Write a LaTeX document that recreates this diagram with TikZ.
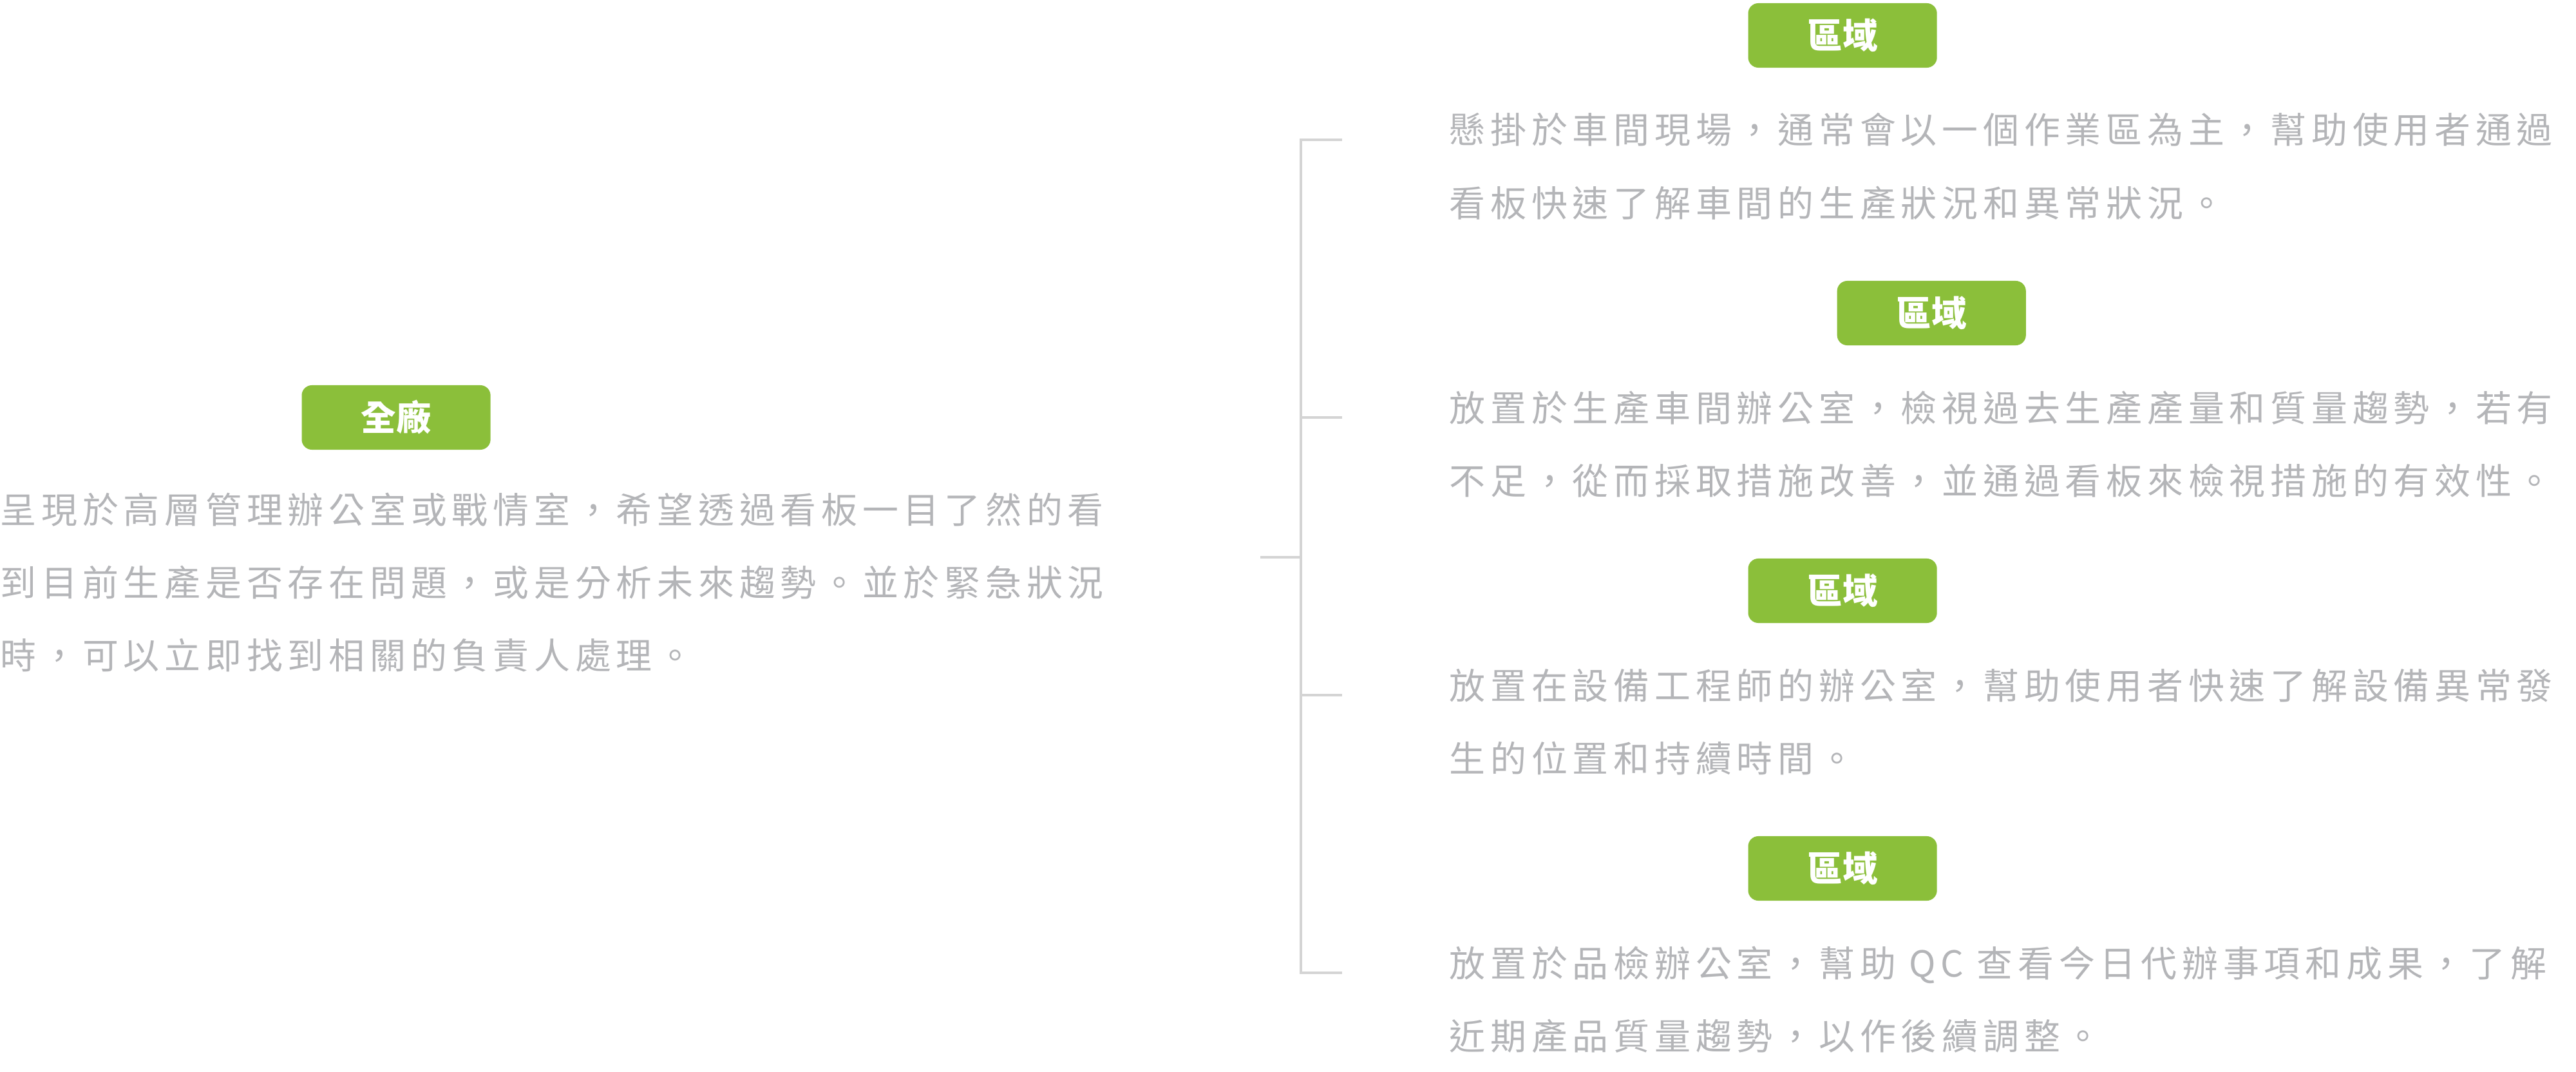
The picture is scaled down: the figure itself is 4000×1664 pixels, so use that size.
\documentclass[tikz,border=0pt]{standalone}
\usepackage{fontspec}
\usepackage{xcolor}
\usepackage{tikz}
\usetikzlibrary{positioning}
\newfontfamily\cjk{Noto Sans CJK TC}
\newfontfamily\cjkspaced{Noto Sans CJK TC}[LetterSpace=14]
\definecolor{tagGreen}{HTML}{8BBF3A}
\definecolor{descGray}{HTML}{B4B5B8}
\definecolor{lineGray}{HTML}{D4D4D4}

\begin{document}
\begin{tikzpicture}[
    x=0.01cm, y=-0.01cm,
    title/.style={anchor=west, inner sep=0pt, text=white, font=\cjk\bfseries\fontsize{18.5}{20}\selectfont},
    tag/.style={fill=tagGreen, rounded corners=4.5pt, minimum width=2.93cm, minimum height=1cm, inner sep=0pt, text=white, font=\cjk\bfseries\fontsize{15.5}{17}\selectfont},
    desc/.style={anchor=north west, inner sep=0pt, align=left, text=descGray, font=\cjkspaced\fontsize{15.9}{32.2}\selectfont},
    bracket/.style={draw=lineGray, line width=1pt}
]
    \useasboundingbox (0,0) rectangle (4000,1664);

    \node[title] (t0) at (0,648) {綜合管理看板};
    \node[tag, right=0.76cm of t0] (g0) {全廠};
    \node[desc] (d0) at (0,764) {呈現於高層管理辦公室或戰情室，希望透過看板一目了然的看\\到目前生產是否存在問題，或是分析未來趨勢。並於緊急狀況\\時，可以立即找到相關的負責人處理。};

    \node[title] (t1) at (2250,55) {車間生產看板};
    \node[tag, right=0.72cm of t1] (g1) {區域};
    \node[desc] (d1) at (2250,175) {懸掛於車間現場，通常會以一個作業區為主，幫助使用者通過\\看板快速了解車間的生產狀況和異常狀況。};

    \node[title] (t2) at (2250,486) {生產歷程檢視看板};
    \node[tag, right=0.8cm of t2] (g2) {區域};
    \node[desc] (d2) at (2250,606) {放置於生產車間辦公室，檢視過去生產產量和質量趨勢，若有\\不足，從而採取措施改善，並通過看板來檢視措施的有效性。};

    \node[title] (t3) at (2250,917) {設備管理看板};
    \node[tag, right=0.72cm of t3] (g3) {區域};
    \node[desc] (d3) at (2250,1037) {放置在設備工程師的辦公室，幫助使用者快速了解設備異常發\\生的位置和持續時間。};

    \node[title] (t4) at (2250,1348) {品質管理看板};
    \node[tag, right=0.72cm of t4] (g4) {區域};
    \node[desc] (d4) at (2250,1468) {放置於品檢辦公室，幫助 QC 查看今日代辦事項和成果，了解\\近期產品質量趨勢，以作後續調整。};

    \coordinate (hub) at (1957,865);
    \coordinate (spine) at (2020,865);
    \coordinate (b1) at (2084,217);
    \coordinate (b2) at (2084,648);
    \coordinate (b3) at (2084,1079);
    \coordinate (b4) at (2084,1510);

    \draw[bracket] (hub) -- (spine);
    \draw[bracket] (b1) -- (b1 -| spine) -- (b4 -| spine) -- (b4);
    \draw[bracket] (b2) -- (b2 -| spine);
    \draw[bracket] (b3) -- (b3 -| spine);
\end{tikzpicture}
\end{document}
